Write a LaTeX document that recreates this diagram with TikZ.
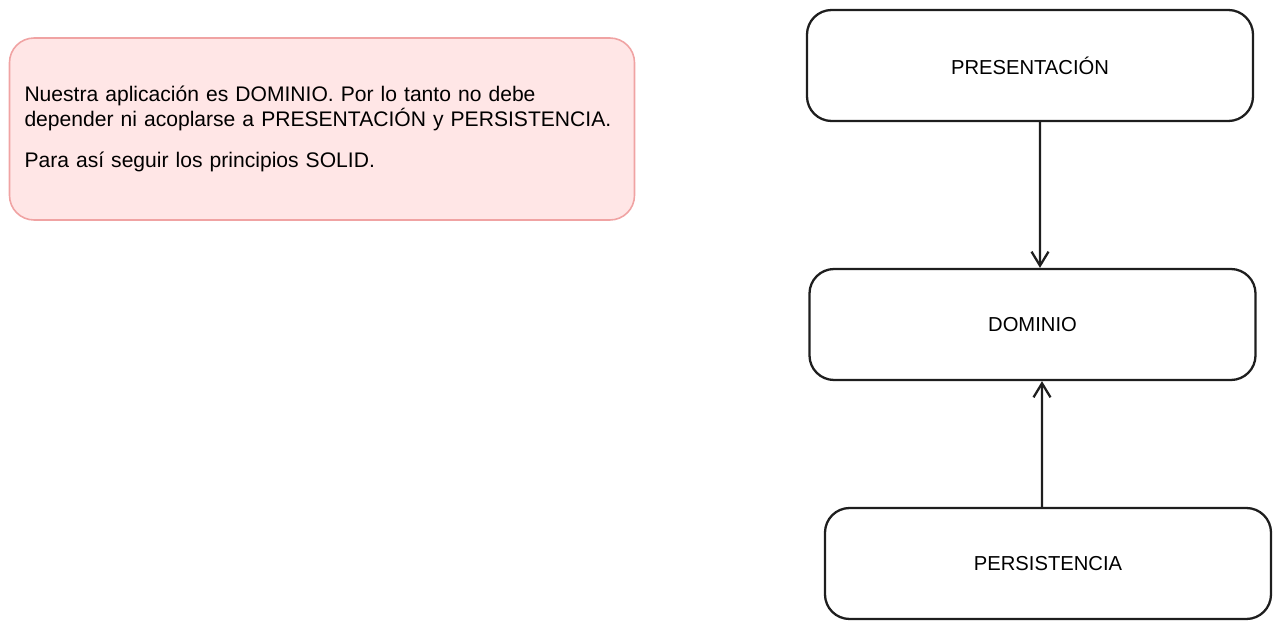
\documentclass[tikz,border=0pt]{standalone}
\usepackage{fontspec}
\setmainfont{Liberation Sans}
\usetikzlibrary{arrows.meta}

\definecolor{notefill}{HTML}{FFE6E6}
\definecolor{notedraw}{HTML}{F0A3A3}
\definecolor{ink}{HTML}{1E1E1E}

\begin{document}
\begin{tikzpicture}[
        layer/.style={draw=ink, line width=1.3pt, rounded corners=14pt,
            minimum width=8.92cm, minimum height=2.22cm, font=\fontsize{11.5}{13}\selectfont},
        note/.style={draw=notedraw, fill=notefill, line width=0.9pt, rounded corners=14pt,
            text width=11.9cm, inner xsep=0.3cm, minimum height=3.64cm, align=left,
            font=\fontsize{12}{14.2}\selectfont},
        flow/.style={draw=ink, line width=1.2pt, -{Straight Barb[length=2.8mm, width=3.4mm, line width=1.3pt]}},
    ]
    \useasboundingbox (0,0) rectangle (25.6,12.58);
    % note
    \node[note] (remark) at (6.44,10.0) {Nuestra aplicación es DOMINIO. Por lo tanto no debe\\
        depender ni acoplarse a PRESENTACIÓN y PERSISTENCIA.\\[0.33cm]
        Para así seguir los principios SOLID.};
    % layers
    \node[layer] (pres) at (20.60,11.27) {PRESENTACIÓN};
    \node[layer] (dom) at (20.65,6.09) {DOMINIO};
    \node[layer] (pers) at (20.96,1.31) {PERSISTENCIA};
    % dependencies
    \draw[flow] ([xshift=2mm]pres.south) -- ([xshift=1.5mm]dom.north);
    \draw[flow] ([xshift=-1.2mm]pers.north) -- ([xshift=1.9mm]dom.south);
\end{tikzpicture}
\end{document}
